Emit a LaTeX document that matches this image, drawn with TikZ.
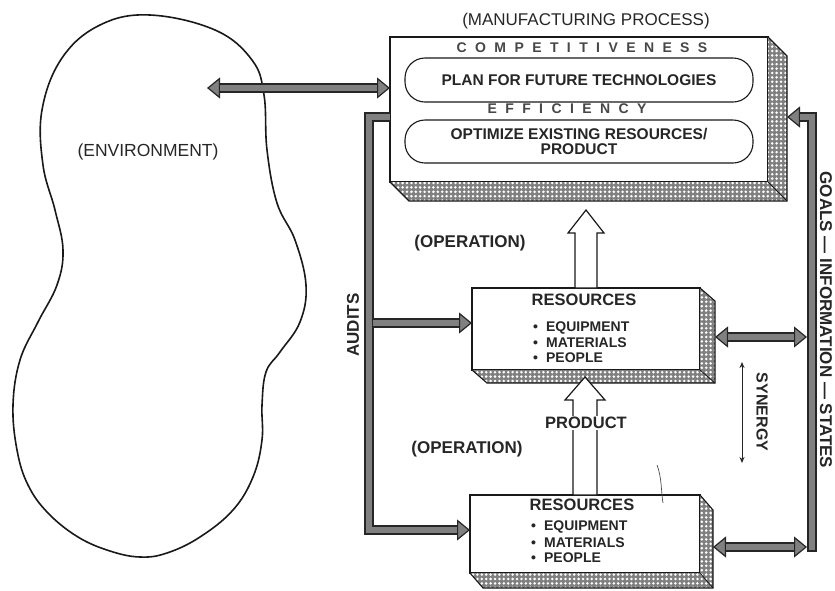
\documentclass[tikz,border=0pt]{standalone}
\usepackage{fontspec}
\setmainfont{Liberation Sans}
\usetikzlibrary{arrows.meta,patterns,calc}

% white stipple laid over the shaded sides of the raised boxes
\pgfdeclarepatternformonly{stipple}{\pgfqpoint{-1pt}{-1pt}}{\pgfqpoint{5pt}{5pt}}{\pgfqpoint{4.4pt}{4.4pt}}%
  {\pgfpathcircle{\pgfqpoint{2.2pt}{2.2pt}}{1.4pt}\pgfusepath{fill}}

% shaded right side and bottom of a raised box: #1 node, #2 dx, #3 dy
\newcommand\extrude[3]{%
  \fill[black!50] (#1.north east) -- ++(#2,#3) -- ($(#1.south east)+(#2,#3)$)
    -- ($(#1.south west)+(#2,#3)$) -- (#1.south west) -- (#1.south east) -- cycle;
  \fill[pattern=stipple, pattern color=white] (#1.north east) -- ++(#2,#3) -- ($(#1.south east)+(#2,#3)$)
    -- ($(#1.south west)+(#2,#3)$) -- (#1.south west) -- (#1.south east) -- cycle;
  \draw[line width=1.1pt, black!90, line join=miter] (#1.north east) -- ++(#2,#3) -- ($(#1.south east)+(#2,#3)$)
    -- ($(#1.south west)+(#2,#3)$) -- (#1.south west);
  \draw[line width=0.8pt, black!90] (#1.south east) -- ++(#2,#3);
}

\tikzset{
  fathd/.tip={Triangle[length=13pt,width=21pt,fill=black!50,line width=1.2pt]},
  synhd/.tip={Stealth[length=6pt,width=5pt]},
}

\begin{document}
\begin{tikzpicture}[x=1pt,y=-1pt,
  txt/.style={text=black!85, inner sep=0pt},
  face/.style={draw=black!90, line width=1.2pt, fill=white, inner sep=0pt, outer sep=0pt},
  pill/.style={draw=black!90, line width=1.1pt, rounded corners=20pt, inner sep=0pt,
    minimum width=348pt, align=center, text=black!85,
    font=\bfseries\fontsize{15.5}{15}\selectfont},
  spaced/.style={txt, text=black!72, font=\bfseries\fontsize{14}{16}\selectfont\addfontfeature{LetterSpace=60}},
  bold17/.style={txt, font=\bfseries\fontsize{17}{20}\selectfont},
  title/.style={txt, font=\bfseries\fontsize{16.5}{18}\selectfont},
  item/.style={txt, anchor=west, font=\bfseries\fontsize{14}{16}\selectfont},
  fatout/.style={line width=10pt, draw=black!85, line join=miter},
  fatin/.style={line width=6pt, draw=black!50, line join=miter},
  blockarrow/.style={draw=black!90, line width=1.2pt, fill=white, line join=miter},
]
\useasboundingbox (0,0) rectangle (835,590);

% ---------- environment ----------
\draw[line width=1.6pt, black!90] plot[smooth cycle, tension=0.65] coordinates {
  (150,15) (215,30) (252,60) (264,95) (267,150) (277,203) (295,240) (306,285)
  (300,322) (280,352) (266,372) (262,405) (262,440) (253,477) (233,510) (200,537)
  (167,553) (140,557) (110,551) (78,537) (48,513) (28,485) (17,450) (13,405)
  (20,360) (38,322) (57,285) (63,250) (55,210) (43,165) (42,110) (62,58) (100,25)};
\node[txt, font=\fontsize{17.5}{20}\selectfont] (envlabel) at (148,152) {(ENVIRONMENT)};
\coordinate (envtip) at (207,88);

% ---------- manufacturing process ----------
\node[txt, font=\fontsize{17}{20}\selectfont] (mfg) at (586,21) {(MANUFACTURING PROCESS)};
\node[face, minimum width=378pt, minimum height=145pt, anchor=north west] (proc) at (390,37) {};
\extrude{proc}{19}{19}
\node[spaced] (comp) at (582,48) {COMPETITIVENESS};
\node[pill, minimum height=44pt] (plan) at (579,80) {PLAN FOR FUTURE TECHNOLOGIES};
\node[spaced] (eff) at (567,109) {EFFICIENCY};
\node[pill, minimum height=43pt] (optim) at (579,141.5) {OPTIMIZE EXISTING RESOURCES/\\PRODUCT};

% ---------- operations ----------
\node[face, minimum width=228pt, minimum height=82pt, anchor=north west] (mid) at (472,288) {};
\extrude{mid}{15}{13}
\node[title] (midtitle) at (584,300) {RESOURCES};
\node[item] (mid1) at (533,328) {\textbullet\hspace{8pt}EQUIPMENT};
\node[item] (mid2) at (533,343) {\textbullet\hspace{8pt}MATERIALS};
\node[item] (mid3) at (533,358) {\textbullet\hspace{8pt}PEOPLE};

\node[face, minimum width=230pt, minimum height=78pt, anchor=north west] (low) at (470,495) {};
\extrude{low}{13}{15}
\node[title] (lowtitle) at (582,505) {RESOURCES};
\node[item] (low1) at (531,527) {\textbullet\hspace{8pt}EQUIPMENT};
\node[item] (low2) at (531,543) {\textbullet\hspace{8pt}MATERIALS};
\node[item] (low3) at (531,558) {\textbullet\hspace{8pt}PEOPLE};

\node[bold17] (op1) at (470,243) {(OPERATION)};
\node[bold17] (op2) at (467,449) {(OPERATION)};

% hollow block arrows carrying the product upward
\draw[blockarrow] ($(mid.north)+(-11,0)$) -- ++(0,-55) -- ++(-7,0) -- ++(18,-23)
  -- ++(18,23) -- ++(-7,0) -- ++(0,55) -- cycle;
\draw[blockarrow] ($(low.north)+(-12,0)$) -- ++(0,-95) -- ++(-8,0) -- ++(20,-23)
  -- ++(20,23) -- ++(-8,0) -- ++(0,95) -- cycle;
\node[txt, fill=white, inner sep=1.5pt, font=\bfseries\fontsize{16.5}{18}\selectfont] (prod) at (586,423) {PRODUCT};

% stray pen stroke over the lower box
\draw[line width=0.7pt, black!70] (657,465) .. controls (662,478) and (661,492) .. (663,503);

% ---------- feedback bars ----------
\coordinate (atop) at (369,117);
\coordinate (amid) at (369,323);
\coordinate (abot) at (369,530);
\coordinate (rtop) at (812,117);
\coordinate (rmid) at (807,337);
\coordinate (rbot) at (812,552);
\coordinate (rlow) at (807,547);
\coordinate (procR) at ($(proc.east)+(19,0)$);
\coordinate (midR) at ($(mid.east)+(15,0)$);
\coordinate (lowR) at ($(low.east)+(13,0)$);

% dark outlines first
\draw[fatout, {fathd}-{fathd}] (envtip) -- (proc.west |- envtip);
\draw[fatout, -{fathd}] (proc.west |- atop) -- (atop) -- (abot) -- (low.west |- abot);
\draw[fatout, -{fathd}] (amid) -- (mid.west |- amid);
\draw[fatout, -{fathd}] (rbot) -- (rtop) -- (procR |- rtop);
\draw[fatout, {fathd}-{fathd}] (midR |- rmid) -- (rmid);
\draw[fatout, {fathd}-{fathd}] (lowR |- rlow) -- (rlow);
% grey cores
\draw[fatin, shorten <=13pt, shorten >=13pt] (envtip) -- (proc.west |- envtip);
\draw[fatin, shorten >=13pt] (proc.west |- atop) -- (atop) -- (abot) -- (low.west |- abot);
\draw[fatin, shorten <=4pt, shorten >=13pt] (amid) -- (mid.west |- amid);
\draw[fatin, shorten <=2pt, shorten >=13pt] (rbot) -- (rtop) -- (procR |- rtop);
\draw[fatin, shorten <=13pt, shorten >=13pt] (midR |- rmid) -- (rmid);
\draw[fatin, shorten <=13pt, shorten >=13pt] (lowR |- rlow) -- (rlow);

% ---------- side labels ----------
\node[bold17, rotate=90] (audits) at (353,325) {AUDITS};
\node[bold17, rotate=-90] (goals) at (826,320) {GOALS — INFORMATION — STATES};
\node[txt, font=\bfseries\fontsize{16}{18}\selectfont, rotate=-90] (syn) at (762,412) {SYNERGY};
\coordinate (syntop) at (742,362);
\coordinate (synbot) at (742,463);
\draw[line width=1pt, black!85, {synhd}-{synhd}] (syntop) -- (synbot);
\end{tikzpicture}
\end{document}
